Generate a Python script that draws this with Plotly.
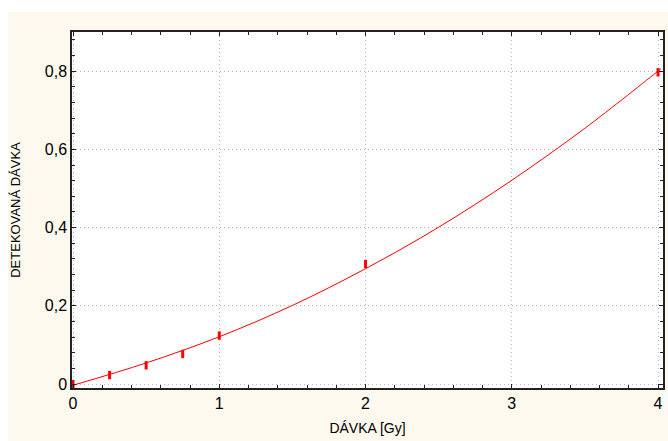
import plotly.graph_objects as go

# measured points
dose = [0.0, 0.25, 0.5, 0.75, 1.0, 2.0, 4.0]
response = [0.0, 0.023, 0.048, 0.077, 0.124, 0.307, 0.797]

# fitted curve
fit_x = [0.0, 0.5, 1.0, 1.5, 2.0, 2.5, 3.0, 3.5, 4.0, 4.02]
fit_y = [-0.003, 0.054, 0.121, 0.201, 0.295, 0.401, 0.521, 0.654, 0.800, 0.806]

x_ticks = [0, 1, 2, 3, 4]
x_ticktext = ["0", "1", "2", "3", "4"]
y_ticks = [0, 0.2, 0.4, 0.6, 0.8]
y_ticktext = ["0", "0,2", "0,4", "0,6", "0,8"]

x_title = "DÁVKA [Gy]"
y_title = "DETEKOVANÁ DÁVKA"

fig = go.Figure()
fig.add_trace(go.Scatter(x=fit_x, y=fit_y, mode="lines", line=dict(color="#ff0000", width=1, shape="spline"),
                         hoverinfo="skip", showlegend=False, cliponaxis=True))
fig.add_trace(go.Scatter(x=dose, y=response, mode="markers",
                         marker=dict(symbol="line-ns", size=6, line=dict(color="#ff0000", width=3), color="#ff0000"),
                         showlegend=False, cliponaxis=False))

W, H = 668, 441
L, R, T, B = 72, 5, 32, 53
pw, ph = W - L - R, H - T - B

def px(xp):
    return (xp - L) / pw

def py(yp):
    return (H - B - yp) / ph

shapes = [
    dict(type="rect", xref="paper", yref="paper", x0=px(0), x1=px(W), y0=py(12), y1=py(0),
         fillcolor="white", line=dict(width=0), layer="above"),
    dict(type="rect", xref="paper", yref="paper", x0=px(0), x1=px(8), y0=py(H), y1=py(0),
         fillcolor="white", line=dict(width=0), layer="above"),
]

axis_common = dict(showline=True, linecolor="#222222", linewidth=1.5, mirror="ticks",
                   ticks="inside", ticklen=4, tickcolor="#222222", tickwidth=1,
                   showgrid=True, gridcolor="#b8b8b8", griddash="1px,3px", gridwidth=1,
                   zeroline=False, automargin=False,
                   tickfont=dict(family="Liberation Sans, Arial", size=16, color="black"))

fig.update_layout(
    width=W, height=H,
    margin=dict(l=L, r=R, t=T, b=B, autoexpand=False),
    paper_bgcolor="#fdf9ee",
    plot_bgcolor="white",
    shapes=shapes,
    xaxis=dict(range=[-0.007, 4.034], tickvals=x_ticks, ticktext=x_ticktext,
               minor=dict(dtick=0.2, ticks="inside", ticklen=3, tickcolor="#222222", showgrid=False),
               title=dict(text=x_title, font=dict(family="Liberation Sans Narrow, Liberation Sans", size=14, color="black"), standoff=12),
               **axis_common),
    yaxis=dict(range=[-0.010, 0.90], tickvals=y_ticks, ticktext=y_ticktext,
               minor=dict(dtick=0.04, ticks="inside", ticklen=3, tickcolor="#222222", showgrid=False),
               title=dict(text=y_title, font=dict(family="Liberation Sans Narrow, Liberation Sans", size=13, color="black"), standoff=21),
               **axis_common),
)

fig.write_html("out.html", config={"displayModeBar": False},
               post_script="document.body.style.margin='0';document.body.style.overflow='hidden';")
